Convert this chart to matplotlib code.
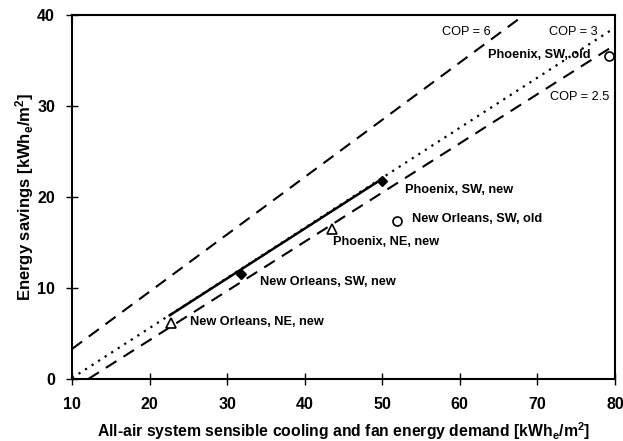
import matplotlib
matplotlib.use('Agg')
import matplotlib.pyplot as plt
import numpy as np

plt.rcParams['font.family'] = ['Liberation Sans', 'DejaVu Sans']
plt.rcParams['mathtext.fontset'] = 'custom'
plt.rcParams['mathtext.rm'] = 'Liberation Sans:bold'
plt.rcParams['mathtext.it'] = 'Liberation Sans:bold'
plt.rcParams['mathtext.bf'] = 'Liberation Sans:bold'

# COP reference lines (end points)
cop6_x = [10.0, 68.3]
cop6_y = [3.3, 40.0]
cop3_x = [10.0, 79.8]
cop3_y = [0.1, 38.5]
cop25_x = [12.1, 80.0]
cop25_y = [0.0, 36.7]

# solid line between new SW cases
fit_x = [22.6, 50.0]
fit_y = [7.0, 22.0]

# simulated cases
tri_x = [22.8, 43.5]
tri_y = [6.2, 16.5]
dia_x = [31.8, 50.0]
dia_y = [11.5, 21.8]
circ_x = [51.9, 79.3]
circ_y = [17.4, 35.5]

labels = ['New Orleans, NE, new', 'Phoenix, NE, new',
          'New Orleans, SW, new', 'Phoenix, SW, new',
          'New Orleans, SW, old', 'Phoenix, SW, old']
label_x = [25.2, 43.6, 34.2, 52.9, 53.8, 63.6]
label_y = [6.3, 15.0, 10.7, 20.8, 17.6, 35.6]

cop_labels = ['COP = 6', 'COP = 3', 'COP = 2.5']
cop_lx = [57.7, 71.5, 71.6]
cop_ly = [38.1, 38.1, 31.0]

fig = plt.figure(figsize=(6.23, 4.41), dpi=100)
ax = fig.add_axes([0.1156, 0.1406, 0.8714, 0.8254])

ax.plot(cop6_x, cop6_y, color='black', lw=1.5, linestyle=(0, (6, 4)))
ax.plot(cop3_x, cop3_y, color='black', lw=1.6, linestyle=(0, (1, 2.5)), zorder=1)
ax.plot(cop25_x, cop25_y, color='black', lw=1.5, linestyle=(0, (6, 4)))
ax.plot(fit_x, fit_y, color='black', lw=1.8, zorder=3)

ax.plot(tri_x, tri_y, linestyle='none', marker='^', ms=7, mfc='white', mec='black', mew=1.2, zorder=4)
ax.plot(dia_x, dia_y, linestyle='none', marker='D', ms=5.5, mfc='black', mec='black', zorder=4)
ax.plot(circ_x, circ_y, linestyle='none', marker='o', ms=6.5, mfc='white', mec='black', mew=1.2, zorder=4)

for t, x, y in zip(labels, label_x, label_y):
    ax.text(x, y, t, fontsize=9.2, fontweight='bold', va='center', ha='left')
for t, x, y in zip(cop_labels, cop_lx, cop_ly):
    ax.text(x, y, t, fontsize=9.2, va='center', ha='left')

ax.set_xlim(10, 80)
ax.set_ylim(0, 40)
ax.set_xticks(np.arange(10, 81, 10))
ax.set_yticks(np.arange(0, 41, 10))
ax.tick_params(direction='inout', length=8.5, width=1, labelsize=11.5)
ax.tick_params(axis='x', pad=9)
ax.tick_params(axis='y', pad=8)
for lab in ax.get_xticklabels() + ax.get_yticklabels():
    lab.set_fontweight('bold')
for s in ax.spines.values():
    s.set_linewidth(1.5)

ax.set_xlabel(r'All-air system sensible cooling and fan energy demand [kWh$_e$/m$^2$]',
              fontsize=11.3, fontweight='bold', va='center')
ax.set_ylabel(r'Energy savings [kWh$_e$/m$^2$]', fontsize=12, fontweight='bold', va='center')
ax.xaxis.set_label_coords(0.5, -0.142)
ax.yaxis.set_label_coords(-0.088, 0.5)

fig.savefig('out.png', dpi=100)
